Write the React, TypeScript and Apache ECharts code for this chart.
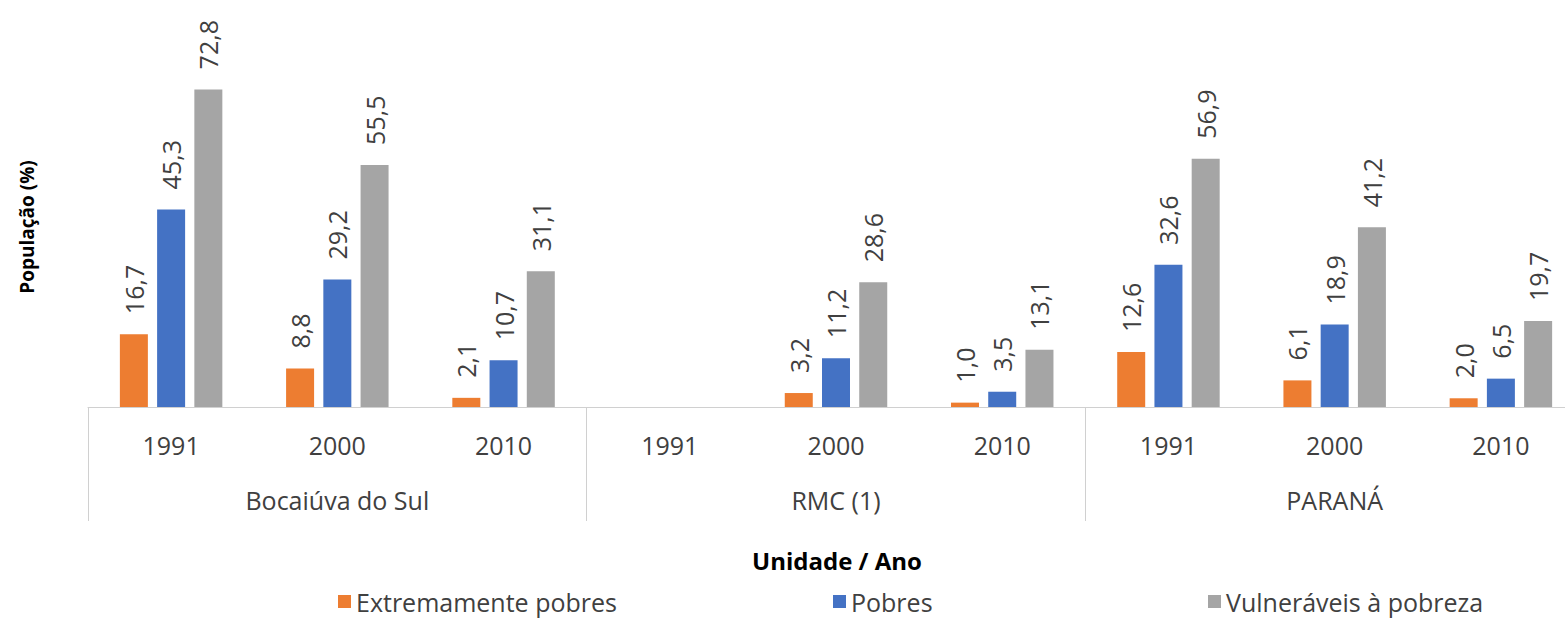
import React, { useEffect, useRef } from "react";
import * as echarts from "echarts";

const years = ["1991", "2000", "2010", "1991", "2000", "2010", "1991", "2000", "2010"];
const groups = ["Bocaiúva do Sul", "RMC (1)", "PARANÁ"];
const extremamentePobres = [16.7, 8.8, 2.1, null, 3.2, 1.0, 12.6, 6.1, 2.0];
const pobres = [45.3, 29.2, 10.7, null, 11.2, 3.5, 32.6, 18.9, 6.5];
const vulneraveis = [72.8, 55.5, 31.1, null, 28.6, 13.1, 56.9, 41.2, 19.7];
const seriesNames = ["Extremamente pobres", "Pobres", "Vulneráveis à pobreza"];
const colors = ["#ED7D31", "#4472C4", "#A5A5A5"];

const FONT = "Open Sans";
const TXT = "#404040";

export default function App() {
  const ref = useRef<HTMLDivElement>(null);
  useEffect(() => {
    if (!ref.current) return;
    const chart = echarts.init(ref.current, undefined, { renderer: "svg" });
    const label = {
      show: true,
      position: "top" as const,
      rotate: 90,
      align: "left" as const,
      verticalAlign: "middle" as const,
      distance: 20,
      fontFamily: FONT,
      fontSize: 25,
      color: TXT,
      formatter: (p: any) => (p.value == null ? "" : Number(p.value).toFixed(1).replace(".", ",")),
    };
    const data = [extremamentePobres, pobres, vulneraveis];
    const legendLefts = [338, 833, 1208];
    chart.setOption({
      animation: false,
      textStyle: { fontFamily: FONT },
      grid: { left: 88, right: 0, top: 58, bottom: 213, containLabel: false },
      legend: seriesNames.map((n, i) => ({
        left: legendLefts[i],
        top: 589,
        padding: 0,
        itemWidth: 13,
        itemHeight: 13,
        itemGap: 6,
        icon: "rect",
        textStyle: { fontFamily: FONT, fontSize: 25, lineHeight: 25, color: TXT },
        data: [n],
      })),
      xAxis: [
        {
          type: "category",
          data: years,
          position: "bottom",
          axisLine: { show: true, lineStyle: { color: "#d0d0d0", width: 1 } },
          axisTick: { show: false },
          axisLabel: { interval: 0, margin: 25, fontFamily: FONT, fontSize: 25, color: TXT },
        },
        {
          type: "category",
          data: groups,
          position: "bottom",
          axisLine: { show: false },
          axisTick: { show: true, length: 114, interval: 0, lineStyle: { color: "#d0d0d0", width: 1 } },
          axisLabel: { interval: 0, margin: 80, fontFamily: FONT, fontSize: 25, color: TXT },
        },
      ],
      yAxis: {
        type: "value",
        min: 0,
        max: 80,
        show: false,
        splitLine: { show: false },
      },
      series: data.map((d, i) => ({
        name: seriesNames[i],
        type: "bar",
        xAxisIndex: 0,
        data: d,
        barWidth: 28,
        barGap: "33%",
        itemStyle: { color: colors[i] },
        label,
      })),
      graphic: [
        {
          type: "text",
          x: 837,
          y: 560,
          style: {
            text: "Unidade / Ano",
            font: `bold 24px "${FONT}"`,
            fill: "#000",
            align: "center",
            verticalAlign: "middle",
          },
        },
        {
          type: "text",
          x: 27,
          y: 227,
          rotation: Math.PI / 2,
          style: {
            text: "População (%)",
            font: `bold 19px "${FONT}"`,
            fill: "#000",
            align: "center",
            verticalAlign: "middle",
          },
        },
      ],
    });
    return () => chart.dispose();
  }, []);
  return (
    <div
      style={{ position: "absolute", left: 0, top: 0, width: 1565, height: 620, overflow: "hidden", background: "#fff" }}
    >
      <div ref={ref} style={{ width: 1584, height: 620 }} />
    </div>
  );
}
